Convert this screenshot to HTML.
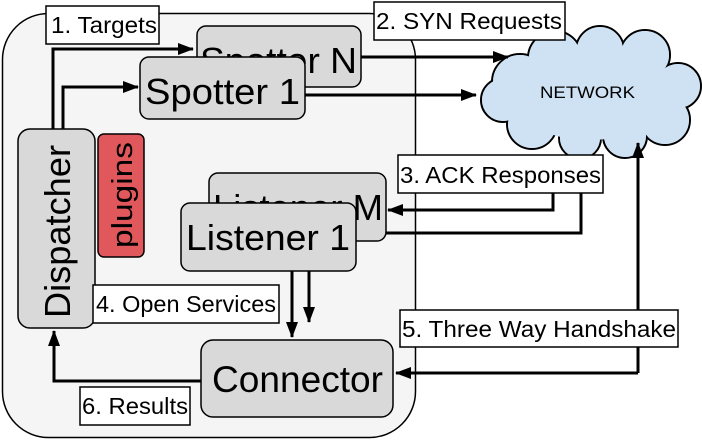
<!DOCTYPE html>
<html><head><style>body{margin:0;background:#fff}svg{display:block}text{font-family:"Liberation Sans",sans-serif}</style></head><body>
<svg width="702" height="440" viewBox="0 0 702 440" xmlns="http://www.w3.org/2000/svg">
<defs><marker id="b" markerWidth="16" markerHeight="12" refX="15" refY="6" orient="auto" markerUnits="userSpaceOnUse"><path d="M0,0 L16,6 L0,12 z" fill="#000"/></marker></defs>
<rect x="2.5" y="13.5" width="413" height="424" rx="46" fill="#f5f5f5" stroke="#000" stroke-width="1.5"/>
<g fill="#cfe2f3">
<g stroke="#000" stroke-width="2">
<circle cx="520" cy="82" r="28"/><circle cx="555" cy="58" r="27"/><circle cx="600" cy="50" r="24"/><circle cx="645" cy="55" r="25"/><circle cx="678" cy="86" r="23"/><circle cx="665" cy="120" r="25"/><circle cx="625" cy="136" r="22"/><circle cx="580" cy="138" r="21"/><circle cx="532" cy="124" r="25"/><circle cx="503" cy="100" r="22"/></g>
<circle cx="520" cy="82" r="27"/><circle cx="555" cy="58" r="26"/><circle cx="600" cy="50" r="23"/><circle cx="645" cy="55" r="24"/><circle cx="678" cy="86" r="22"/><circle cx="665" cy="120" r="24"/><circle cx="625" cy="136" r="21"/><circle cx="580" cy="138" r="20"/><circle cx="532" cy="124" r="24"/><circle cx="503" cy="100" r="21"/><ellipse cx="590" cy="95" rx="80" ry="45"/></g>
<text x="540" y="98" font-size="17" textLength="95" lengthAdjust="spacingAndGlyphs">NETWORK</text>
<g fill="none" stroke="#000" stroke-width="3">
<path d="M53,129 V49 H193" marker-end="url(#b)"/>
<path d="M63,129 V87 H138" marker-end="url(#b)"/>
<path d="M361,57 H508" marker-end="url(#b)"/>
<path d="M305,95 H476" marker-end="url(#b)"/>
<path d="M553,193 V210 H388" marker-end="url(#b)"/>
<path d="M581,193 V233 H358" marker-end="url(#b)"/>
<path d="M638,373 V143" marker-end="url(#b)"/>
<path d="M638,373 H396" marker-end="url(#b)"/>
<path d="M292,271 V337" marker-end="url(#b)"/>
<path d="M309,271 V322" marker-end="url(#b)"/>
<path d="M201,381 H54 V331" marker-end="url(#b)"/>
</g>
<g stroke="#000" stroke-width="1.5" fill="#d9d9d9">
<rect x="197" y="26" width="164" height="61" rx="9"/>
<text x="200" y="73" font-size="36" textLength="157" lengthAdjust="spacingAndGlyphs" stroke="none" fill="#000">Spotter N</text>
<rect x="140" y="57" width="165" height="62" rx="9"/>
<text x="145" y="104" font-size="36" textLength="155" lengthAdjust="spacingAndGlyphs" stroke="none" fill="#000">Spotter 1</text>
<rect x="209" y="173" width="177" height="68" rx="9"/>
<text x="213" y="220" font-size="36" textLength="170" lengthAdjust="spacingAndGlyphs" stroke="none" fill="#000">Listener M</text>
<rect x="181" y="203" width="175" height="68" rx="9"/>
<text x="186" y="250" font-size="36" textLength="164" lengthAdjust="spacingAndGlyphs" stroke="none" fill="#000">Listener 1</text>
<rect x="18" y="129" width="77" height="199" rx="12"/>
<text transform="translate(70,318) rotate(-90)" font-size="36" textLength="173" lengthAdjust="spacingAndGlyphs" stroke="none" fill="#000">Dispatcher</text>
<rect x="98" y="134" width="46" height="123" rx="6" fill="#e0575c"/>
<text transform="translate(132,248) rotate(-90)" font-size="29" textLength="106" lengthAdjust="spacingAndGlyphs" stroke="none" fill="#000">plugins</text>
<rect x="201" y="340" width="192" height="77" rx="12"/>
<text x="212" y="392" font-size="37" textLength="171" lengthAdjust="spacingAndGlyphs" stroke="none" fill="#000">Connector</text>
</g>
<g stroke="#000" stroke-width="1.5" fill="#fff">
<rect x="46" y="6" width="113" height="38"/><rect x="374" y="2" width="191" height="38"/><rect x="398" y="155" width="205" height="38"/><rect x="400" y="310" width="278" height="37"/><rect x="93" y="285" width="186" height="38"/><rect x="80" y="387" width="110" height="38"/>
</g>
<g font-size="23" fill="#000">
<text x="51" y="33" textLength="106" lengthAdjust="spacingAndGlyphs">1. Targets</text>
<text x="376" y="29" textLength="186" lengthAdjust="spacingAndGlyphs">2. SYN Requests</text>
<text x="400" y="183" textLength="201" lengthAdjust="spacingAndGlyphs">3. ACK Responses</text>
<text x="402" y="337" textLength="274" lengthAdjust="spacingAndGlyphs">5. Three Way Handshake</text>
<text x="96" y="312" textLength="180" lengthAdjust="spacingAndGlyphs">4. Open Services</text>
<text x="82" y="414" textLength="106" lengthAdjust="spacingAndGlyphs">6. Results</text>
</g>
</svg>
</body></html>
